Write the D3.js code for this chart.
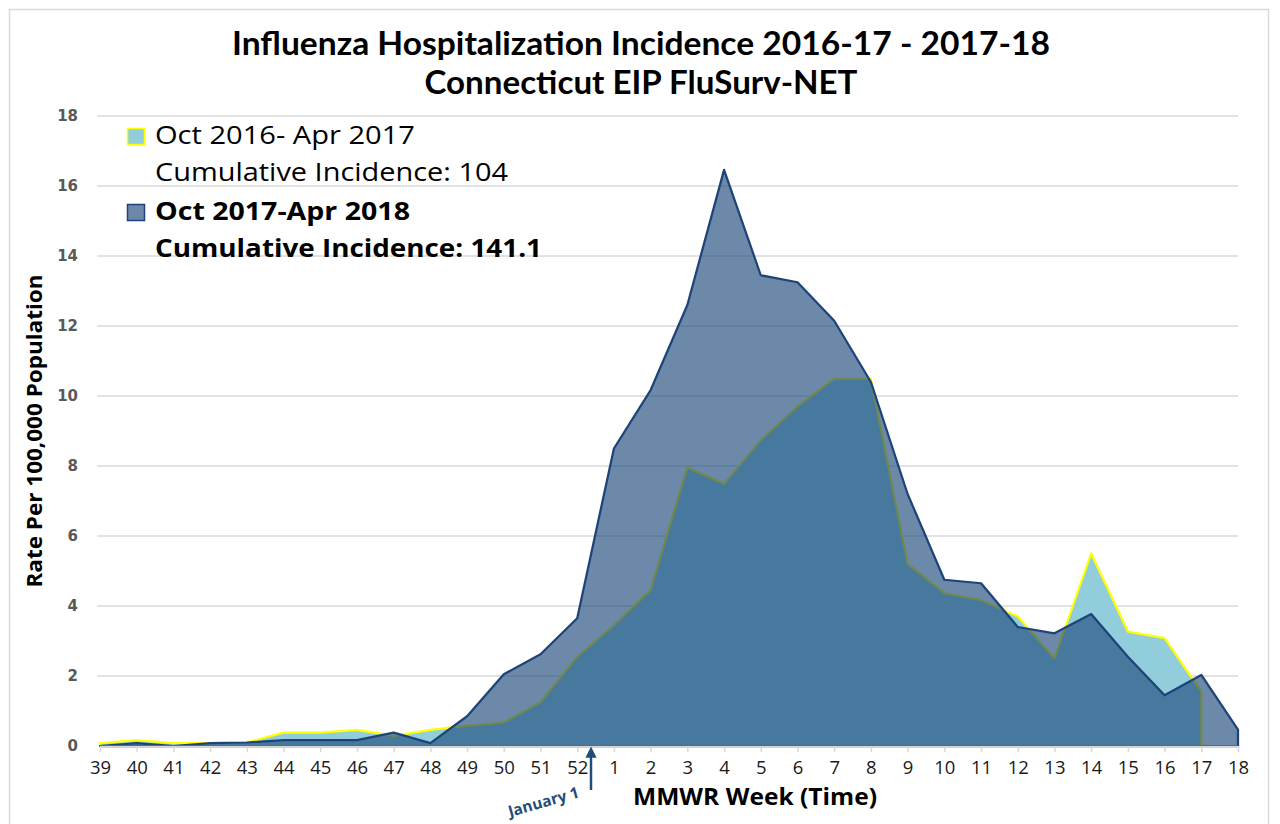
<!DOCTYPE html>
<html>
<head>
<meta charset="utf-8">
<script src="https://cdn.jsdelivr.net/npm/d3@7"></script>
<style>
  html, body { margin: 0; padding: 0; background: #ffffff; }
  svg { display: block; }
</style>
</head>
<body>
<svg id="chart" width="1280" height="824"></svg>
<script>
// ---------------- DATA ----------------
const weeks = ["39","40","41","42","43","44","45","46","47","48","49","50","51","52",
               "1","2","3","4","5","6","7","8","9","10","11","12","13","14","15","16","17","18"];

// Oct 2016 - Apr 2017 (ends at week 17)
const season2016 = [0.08,0.17,0.08,0.08,0.10,0.38,0.38,0.46,0.29,0.46,0.58,0.67,1.25,2.55,
                    3.45,4.46,7.96,7.49,8.74,9.70,10.49,10.49,5.20,4.37,4.17,3.70,2.50,5.50,3.27,3.08,1.55,null];

// Oct 2017 - Apr 2018
const season2017 = [0.00,0.08,0.00,0.08,0.10,0.17,0.17,0.17,0.38,0.08,0.85,2.05,2.62,3.65,
                    8.50,10.17,12.60,16.46,13.45,13.25,12.15,10.40,7.20,4.75,4.65,3.40,3.22,3.77,2.55,1.45,2.03,0.47];

const yTicks = [0,2,4,6,8,10,12,14,16,18];

const titleLines = ["Influenza Hospitalization Incidence 2016-17 - 2017-18", "Connecticut EIP FluSurv-NET"];
const legendItems = [
  {lines: ["Oct 2016- Apr 2017", "Cumulative Incidence: 104"], bold: false, key: "s2016"},
  {lines: ["Oct 2017-Apr 2018", "Cumulative Incidence: 141.1"], bold: true, key: "s2017"}
];
const yTitle = "Rate Per 100,000 Population";
const xTitle = "MMWR Week (Time)";
const annotation = {label: "January 1", afterWeek: "52", fraction: 0.375};

// ---------------- STYLE / LAYOUT ----------------
const C = {
  lightFill: "#92cddc",
  lightStroke: "#ffff00",
  darkFill: "#1f497d",
  darkOpacity: 0.65,
  darkStroke: "#1d4478",
  grid: "#d9d9d9",
  tickText: "#595959",
  annot: "#1f4e79"
};
const titleWidths = [818, 433];
const legendWidths = [[260, 353], [255, 387]];

const svg = d3.select("#chart");
const margin = {left: 100, right: 1238, top: 116, bottom: 746};

const x = d3.scalePoint().domain(weeks).range([margin.left, margin.right]);
const y = d3.scaleLinear().domain([0, 18]).range([margin.bottom, margin.top]);

// frame
svg.append("rect")
  .attr("x", 9.5).attr("y", 9.5).attr("width", 1259).attr("height", 840)
  .attr("fill", "none").attr("stroke", "#d9d9d9").attr("stroke-width", 1.5);

// title
svg.selectAll("text.title").data(titleLines).join("text")
  .attr("class", "title")
  .attr("x", 641).attr("y", (d, i) => 55 + i * 39)
  .attr("text-anchor", "middle")
  .attr("font-family", "Lato, 'Open Sans', sans-serif")
  .attr("font-weight", 700)
  .attr("font-size", 31.5)
  .attr("textLength", (d, i) => titleWidths[i])
  .attr("lengthAdjust", "spacingAndGlyphs")
  .attr("fill", "#000")
  .text(d => d);

// gridlines
svg.append("g").selectAll("line").data(yTicks.filter(t => t > 0)).join("line")
  .attr("x1", margin.left - 3).attr("x2", margin.right)
  .attr("y1", d => y(d)).attr("y2", d => y(d))
  .attr("stroke", C.grid).attr("stroke-width", 1.5);

// y tick labels via axis
const yAxis = svg.append("g")
  .attr("transform", `translate(${margin.left},0)`)
  .call(d3.axisLeft(y).tickValues(yTicks).tickSize(0).tickPadding(22).tickFormat(d3.format("d")));
yAxis.select(".domain").remove();
yAxis.selectAll("text")
  .attr("font-family", "'DejaVu Sans', Verdana, sans-serif")
  .attr("font-weight", 700)
  .attr("font-size", 15)
  .attr("fill", C.tickText);

// areas
const data2016 = weeks.map((w, i) => ({w, v: season2016[i]}));
const data2017 = weeks.map((w, i) => ({w, v: season2017[i]}));

const area = d3.area()
  .defined(d => d.v !== null)
  .x(d => x(d.w))
  .y0(y(0))
  .y1(d => y(d.v));

svg.append("path")
  .datum(data2016)
  .attr("d", d => area(d) + "Z")
  .attr("fill", C.lightFill)
  .attr("stroke", C.lightStroke)
  .attr("stroke-width", 2.25)
  .attr("stroke-linejoin", "round");

svg.append("path")
  .datum(data2017)
  .attr("d", d => area(d) + "Z")
  .attr("fill", C.darkFill)
  .attr("fill-opacity", C.darkOpacity)
  .attr("stroke", C.darkStroke)
  .attr("stroke-width", 2.25)
  .attr("stroke-linejoin", "round");

// x axis
const xAxis = svg.append("g")
  .attr("transform", `translate(0,${y(0)})`)
  .call(d3.axisBottom(x).tickSize(6).tickPadding(9));
xAxis.select(".domain")
  .attr("d", `M${margin.left},0.5H${margin.right}`)
  .attr("stroke", C.grid).attr("stroke-width", 1.5);
xAxis.selectAll(".tick line").attr("stroke", C.grid).attr("stroke-width", 1.5);
xAxis.selectAll("text")
  .attr("font-family", "'Open Sans', sans-serif")
  .attr("font-size", 18.5)
  .attr("fill", "#1a1a1a");

// axis titles
svg.append("text")
  .attr("transform", `translate(42,431) rotate(-90)`)
  .attr("text-anchor", "middle")
  .attr("font-family", "'Open Sans', sans-serif")
  .attr("font-weight", 700)
  .attr("font-size", 21.5)
  .attr("textLength", 313)
  .attr("lengthAdjust", "spacingAndGlyphs")
  .attr("fill", "#000")
  .text(yTitle);

svg.append("text")
  .attr("x", 755).attr("y", 805)
  .attr("text-anchor", "middle")
  .attr("font-family", "'Open Sans', sans-serif")
  .attr("font-weight", 700)
  .attr("font-size", 23)
  .attr("textLength", 244)
  .attr("lengthAdjust", "spacingAndGlyphs")
  .attr("fill", "#000")
  .text(xTitle);

// January 1 annotation
const ax = x(annotation.afterWeek) + x.step() * annotation.fraction;
svg.append("defs").append("marker")
  .attr("id", "arrowhead")
  .attr("viewBox", "0 0 10 10").attr("refX", 5).attr("refY", 5)
  .attr("markerWidth", 4.5).attr("markerHeight", 4.5)
  .attr("orient", "auto-start-reverse")
  .append("path").attr("d", "M0,0L10,5L0,10Z").attr("fill", C.annot);
svg.append("line")
  .attr("x1", ax).attr("x2", ax)
  .attr("y1", 790).attr("y2", 752)
  .attr("stroke", C.annot).attr("stroke-width", 2.5)
  .attr("marker-end", "url(#arrowhead)");
svg.append("text")
  .attr("transform", `translate(${ax - 46},${807}) rotate(-16)`)
  .attr("text-anchor", "middle")
  .attr("font-family", "'Open Sans', sans-serif")
  .attr("font-weight", 700)
  .attr("font-size", 15.5)
  .attr("fill", C.annot)
  .text(annotation.label);

// legend
const lg = svg.append("g");
legendItems.forEach((item, i) => {
  const top = 128 + i * 76;
  lg.append("rect")
    .attr("x", 127.5).attr("y", top + 0.5).attr("width", 17).attr("height", 16)
    .attr("fill", item.key === "s2016" ? C.lightFill : "#6e86a8")
    .attr("stroke", item.key === "s2016" ? C.lightStroke : C.darkStroke)
    .attr("stroke-width", 1.5);
  item.lines.forEach((t, j) => {
    lg.append("text")
      .attr("x", 155).attr("y", top + 16 + j * 36.5)
      .attr("font-family", "'Open Sans', sans-serif")
      .attr("font-weight", item.bold ? 700 : 400)
      .attr("font-size", 25)
      .attr("textLength", legendWidths[i][j])
      .attr("lengthAdjust", "spacingAndGlyphs")
      .attr("fill", "#000")
      .text(t);
  });
});
</script>
</body>
</html>
